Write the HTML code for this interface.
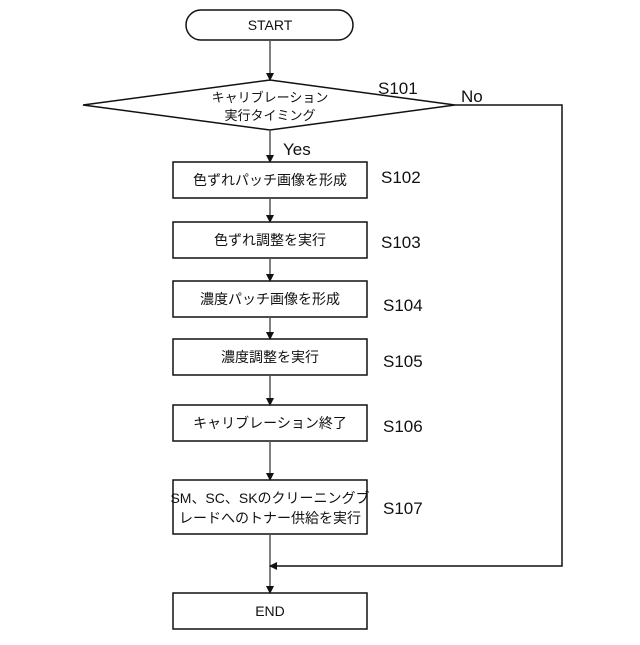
<!DOCTYPE html>
<html><head><meta charset="utf-8"><style>body{margin:0;background:#fff}</style></head><body>
<svg width="640" height="640" viewBox="0 0 640 640" xmlns="http://www.w3.org/2000/svg" font-family="Liberation Sans, Noto Sans CJK JP, sans-serif">
<defs><marker id="a" markerWidth="8" markerHeight="8" refX="7" refY="4" orient="auto" markerUnits="userSpaceOnUse"><path d="M0,0 L8,4 L0,8z" fill="#111"/></marker></defs>
<g stroke="#111" stroke-width="1.5" fill="#fff">
<rect x="186" y="10" width="167" height="30" rx="15"/>
<polygon points="83,105 270,80 455,105 270,130"/>
<rect x="173" y="162" width="194" height="36"/>
<rect x="173" y="222" width="194" height="36"/>
<rect x="173" y="281" width="194" height="36"/>
<rect x="173" y="339" width="194" height="36"/>
<rect x="173" y="405" width="194" height="36"/>
<rect x="173" y="480" width="194" height="54"/>
<rect x="173" y="593" width="194" height="36"/>
</g>
<g stroke="#555" stroke-width="1.5" fill="none" marker-end="url(#a)">
<line x1="270" y1="40" x2="270" y2="80"/>
<line x1="270" y1="130" x2="270" y2="162"/>
<line x1="270" y1="198" x2="270" y2="222"/>
<line x1="270" y1="258" x2="270" y2="281"/>
<line x1="270" y1="317" x2="270" y2="339"/>
<line x1="270" y1="375" x2="270" y2="405"/>
<line x1="270" y1="441" x2="270" y2="480"/>
<line x1="270" y1="534" x2="270" y2="593"/>
<polyline stroke="#111" points="455,105 562,105 562,566 270,566"/>
</g>
<g font-size="14" text-anchor="middle" fill="#111">
<text x="270" y="30">START</text>
<text x="270" y="102" font-size="13">キャリブレーション</text>
<text x="270" y="120" font-size="13">実行タイミング</text>
<text x="270" y="185">色ずれパッチ画像を形成</text>
<text x="270" y="245">色ずれ調整を実行</text>
<text x="270" y="304">濃度パッチ画像を形成</text>
<text x="270" y="362">濃度調整を実行</text>
<text x="270" y="428">キャリブレーション終了</text>
<text x="270" y="503">SM、SC、SKのクリーニングブ</text>
<text x="270" y="523">レードへのトナー供給を実行</text>
<text x="270" y="616">END</text>
</g>
<g font-size="17" fill="#111">
<text x="378" y="94">S101</text>
<text x="461" y="102">No</text>
<text x="283" y="155">Yes</text>
<text x="381" y="183">S102</text>
<text x="381" y="248">S103</text>
<text x="383" y="311">S104</text>
<text x="383" y="367">S105</text>
<text x="383" y="432">S106</text>
<text x="383" y="514">S107</text>
</g>
</svg>
</body></html>
